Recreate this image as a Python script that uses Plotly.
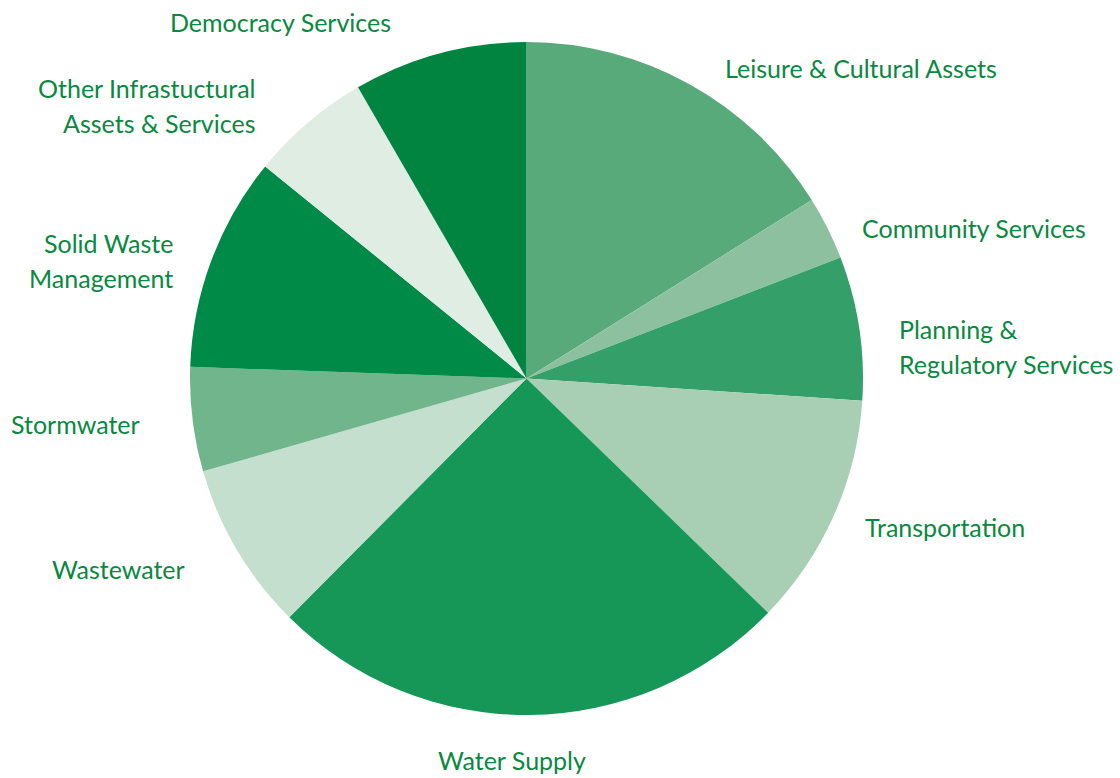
import plotly.graph_objects as go

# Share of spending by activity group (percent), clockwise from 12 o'clock
categories = [
    "Leisure & Cultural Assets",
    "Community Services",
    "Planning &<br>Regulatory Services",
    "Transportation",
    "Water Supply",
    "Wastewater",
    "Stormwater",
    "Solid Waste<br>Management",
    "Other Infrastuctural<br>Assets & Services",
    "Democracy Services",
]
shares = [16.1, 3.05, 6.9, 11.2, 25.2, 8.1, 5.0, 10.3, 5.8, 8.35]
slice_colors = [
    "#58aa7a", "#8dc09e", "#349f68", "#a8cfb4", "#169758",
    "#c4dfcd", "#71b58c", "#008a48", "#dfede3", "#00843f",
]

W, H = 1120, 778
TEXT_COLOR = "#08893f"
FONT = "Lato"

# Label placement: (x px, y px of first line, anchor)
label_places = [
    (723, 68, "left"),
    (860, 228, "left"),
    (897, 329, "left"),
    (863, 527, "left"),
    (512, 760, "center"),
    (187, 569, "right"),
    (9, 424, "left"),
    (175, 243, "right"),
    (258, 88, "right"),
    (280, 22, "center"),
]
LINE_GAP = 35

fig = go.Figure(
    go.Pie(
        labels=categories,
        values=shares,
        sort=False,
        direction="clockwise",
        rotation=0,
        marker=dict(colors=slice_colors, line=dict(width=0)),
        textinfo="none",
        hoverinfo="label+percent",
        showlegend=False,
        domain=dict(x=[190 / W, 863 / W], y=[1 - 715 / H, 1 - 42 / H]),
    )
)

annotations = []
for name, (px, py, anchor) in zip(categories, label_places):
    for i, line in enumerate(name.split("<br>")):
        annotations.append(
            dict(
                text=line,
                x=px / W,
                y=1 - (py + i * LINE_GAP) / H,
                xref="paper",
                yref="paper",
                xanchor=anchor,
                yanchor="middle",
                showarrow=False,
                font=dict(family=FONT, size=25, color=TEXT_COLOR),
            )
        )

fig.update_layout(
    width=W,
    height=H,
    margin=dict(l=0, r=0, t=0, b=0),
    paper_bgcolor="white",
    plot_bgcolor="white",
    annotations=annotations,
)

fig.write_html("out.html")
